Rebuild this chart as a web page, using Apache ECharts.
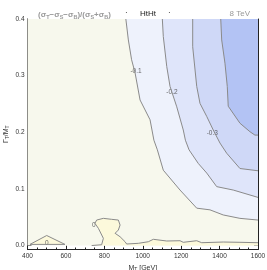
<!DOCTYPE html>
<html>
<head>
<meta charset="utf-8">
<script src="https://cdn.jsdelivr.net/npm/echarts@6/dist/echarts.min.js"></script>
<style>
  html, body { margin: 0; padding: 0; background: #fff; }
  #chart { width: 267px; height: 270px; }
</style>
</head>
<body>
<div id="chart"></div>
<script>
// axis ranges and ticks
const xRange = [400, 1600];
const yRange = [-0.007, 0.4];
const yMajorTicks = [0, 0.1, 0.2, 0.3, 0.4];
const yMinorTicks = [0.02, 0.04, 0.06, 0.08, 0.12, 0.14, 0.16, 0.18, 0.22, 0.24, 0.26, 0.28, 0.32, 0.34, 0.36, 0.38];

// contour lines, [M_T, Gamma/M]
const contourZero = [[734, 0], [786, 0.0014], [795, 0.0127], [769, 0.0304], [751, 0.0392], [760, 0.045],
  [795, 0.048], [838, 0.0463], [873, 0.045], [882, 0.0362], [873, 0.0274], [856, 0.0216], [882, 0.0155],
  [908, 0.0067], [916, 0.0027], [977, 0.0039], [1029, 0.0067], [1055, 0.011], [1125, 0.008], [1194, 0.0085],
  [1211, 0.0057], [1281, 0.0085], [1307, 0.005], [1419, 0.0062], [1506, 0.0057], [1600, 0.005]];
const contourZeroTri = [[413, 0.002], [500, 0.0177], [595, 0.002]];
const contourM01 = [[912, 0.4], [925, 0.363], [942, 0.328], [960, 0.305], [986, 0.257], [1038, 0.222], [1058, 0.186],
  [1076, 0.169], [1107, 0.133], [1194, 0.098], [1281, 0.066], [1350, 0.063], [1419, 0.054], [1506, 0.048], [1600, 0.045]];
const contourM02 = [[1102, 0.4], [1107, 0.369], [1125, 0.316], [1142, 0.281], [1177, 0.245], [1211, 0.204], [1222, 0.186],
  [1241, 0.169], [1289, 0.145], [1333, 0.128], [1385, 0.104], [1471, 0.098], [1600, 0.085]];
const contourM03 = [[1260, 0.4], [1260, 0.351], [1281, 0.281], [1298, 0.251], [1333, 0.228], [1367, 0.204], [1402, 0.181],
  [1437, 0.163], [1506, 0.136], [1600, 0.132]];
const contourM04 = [[1406, 0.4], [1411, 0.363], [1428, 0.322], [1440, 0.281], [1445, 0.246], [1506, 0.216], [1558, 0.201],
  [1584, 0.195], [1600, 0.195]];
const contourLabels = [[965, 0.308, '-0.1'], [1152, 0.271, '-0.2'], [1362, 0.199, '-0.3'], [745, 0.036, '0'], [500, 0.004, '0']];

const lineColor = '#8a8a8a';
const fontFamily = 'Liberation Sans, Arial, sans-serif';

function polygonSeries(points, fill) {
  return {
    type: 'custom',
    coordinateSystem: 'cartesian2d',
    silent: true,
    clip: true,
    data: [points[0]],
    renderItem: function (params, api) {
      return {
        type: 'polygon',
        shape: { points: points.map(function (p) { return api.coord(p); }) },
        style: { fill: fill }
      };
    }
  };
}

function lineSeries(points) {
  return {
    type: 'line',
    data: points,
    symbol: 'none',
    silent: true,
    lineStyle: { color: lineColor, width: 1 }
  };
}

// region above/right of a contour, closed along the top right corner
function upperRegion(contour) {
  return contour.concat([[xRange[1], yRange[1]]]);
}

function yAxisDef(position, ticks, len, labels) {
  return {
    type: 'value', position: position, min: yRange[0], max: yRange[1],
    axisLine: { show: labels, onZero: false, lineStyle: { color: '#222', width: 1 } },
    axisTick: { show: true, inside: true, length: len, customValues: ticks, lineStyle: { color: '#222' } },
    axisLabel: labels ? {
      customValues: yMajorTicks, fontSize: 6.5, color: '#333', margin: 3, fontFamily: fontFamily,
      formatter: function (v) { return v.toFixed(1); }
    } : { show: false },
    splitLine: { show: false }
  };
}

function xAxisDef(position, labels) {
  return {
    type: 'value', position: position, min: xRange[0], max: xRange[1], interval: 200,
    axisLine: { show: true, onZero: false, lineStyle: { color: '#222', width: 1 } },
    axisTick: { show: true, inside: true, length: 4, lineStyle: { color: '#222' } },
    minorTick: { show: true, splitNumber: 4, length: 2, lineStyle: { color: '#222' } },
    axisLabel: labels ? { fontSize: 6.5, color: '#333', margin: 3, fontFamily: fontFamily,
      formatter: function (v) { return String(v); } } : { show: false },
    splitLine: { show: false }
  };
}

const chart = echarts.init(document.getElementById('chart'));
const nameStyle = { rich: { a: { fontSize: 7, color: '#333', fontFamily: fontFamily },
  s: { fontSize: 5, color: '#333', fontFamily: fontFamily, padding: [4, 0, 0, 0] } } };
const bottomX = xAxisDef('bottom', true);
bottomX.name = '{a|M}{s|T}{a| [GeV]}';
bottomX.nameLocation = 'middle';
bottomX.nameGap = 14;
bottomX.nameTextStyle = nameStyle;
const leftY = yAxisDef('left', yMajorTicks, 4, true);
leftY.name = '{a|Γ}{s|T}{a|/M}{s|T}';
leftY.nameLocation = 'middle';
leftY.nameGap = 17;
leftY.nameMoveOverlap = false;
leftY.nameTextStyle = { rich: { a: { fontSize: 7, color: '#333', fontFamily: fontFamily },
  s: { fontSize: 5, color: '#333', fontFamily: fontFamily, padding: [4, 0, 0, 0] } } };
const rightY = yAxisDef('right', yMajorTicks, 4, true);
rightY.axisLabel = { show: false };

const sub = { fontSize: 5.5, color: '#999', fontFamily: fontFamily, padding: [4, 0, 0, 0] };
const main = { fontSize: 8, color: '#999', fontFamily: fontFamily };

chart.setOption({
  animation: false,
  backgroundColor: '#fff',
  title: [
    { text: '{a|(σ}{s|T}{a|−σ}{s|S}{a|−σ}{s|B}{a|)/(σ}{s|S}{a|+σ}{s|B}{a|)}', left: 33, top: 5,
      textStyle: { rich: { a: main, s: sub } } },
    { text: '·', left: 120, top: 4, textStyle: { fontSize: 8, color: '#333', fontWeight: 'normal', fontFamily: fontFamily } },
    { text: 'HtHt', left: 135, top: 5, textStyle: { fontSize: 8, color: '#222', fontWeight: 'normal', fontFamily: fontFamily } },
    { text: '·', left: 163, top: 4, textStyle: { fontSize: 8, color: '#333', fontWeight: 'normal', fontFamily: fontFamily } },
    { text: '8 TeV', right: 12, top: 5, textStyle: { fontSize: 8, color: '#999', fontWeight: 'normal', fontFamily: fontFamily } }
  ],
  grid: { left: 27.5, right: 9, top: 19, bottom: 20.5, containLabel: false, outerBoundsMode: 'none' },
  xAxis: [bottomX, xAxisDef('top', false)],
  yAxis: [leftY, yAxisDef('left', yMinorTicks, 2, false), rightY, yAxisDef('right', yMinorTicks, 2, false)],
  series: [
    polygonSeries([[xRange[0], 0], [xRange[1], 0], [xRange[1], yRange[1]], [xRange[0], yRange[1]]], '#f7f8ed'),
    polygonSeries(contourZero.concat([[xRange[1], 0]]), '#fcf9db'),
    polygonSeries(contourZeroTri, '#fcf9db'),
    polygonSeries(upperRegion(contourM01), '#eef2fc'),
    polygonSeries(upperRegion(contourM02), '#dfe5fa'),
    polygonSeries(upperRegion(contourM03), '#cfd8f7'),
    polygonSeries(upperRegion(contourM04), '#b3c3f4'),
    lineSeries(contourZero),
    lineSeries(contourZeroTri.concat([contourZeroTri[0]])),
    lineSeries(contourM01),
    lineSeries(contourM02),
    lineSeries(contourM03),
    lineSeries(contourM04),
    {
      type: 'scatter', data: contourLabels, symbolSize: 0, silent: true,
      label: { show: true, position: 'inside', fontSize: 6.5, color: '#444', fontFamily: fontFamily,
        formatter: function (p) { return p.value[2]; } }
    }
  ]
});
</script>
</body>
</html>
